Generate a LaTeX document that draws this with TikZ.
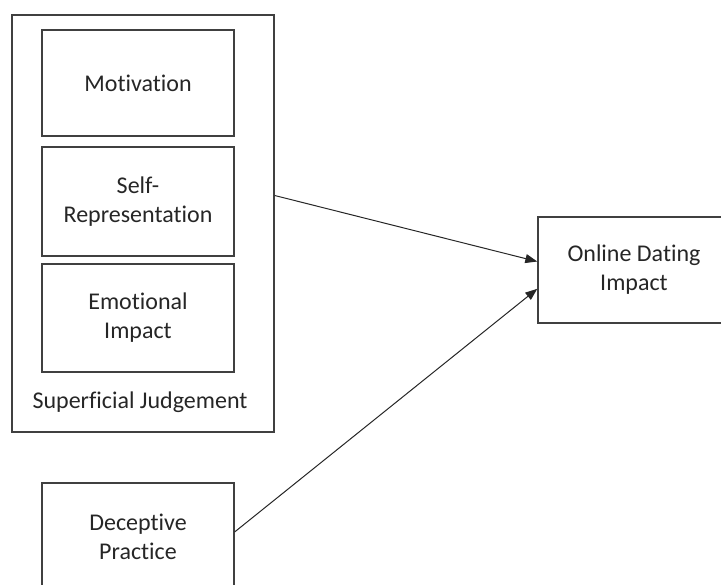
\documentclass[tikz,border=0pt]{standalone}
\usepackage{fontspec}
\setmainfont{Carlito}[Ligatures=NoCommon]
\usetikzlibrary{arrows.meta}

\tikzset{
  factor/.style={draw=black!75, line width=1.4pt, minimum width=192pt,
    minimum height=108pt, align=center, text=black!85, inner sep=0pt},
  link/.style={draw=black!85, line width=1pt,
    -{Triangle[length=12pt,width=9pt]}}
}

\begin{document}
\begin{tikzpicture}[x=1pt,y=-1pt,font=\fontsize{24}{29}\selectfont]
    \useasboundingbox (0,0) rectangle (721,585);
    % group of superficial factors
    \node[factor, minimum width=262pt, minimum height=417pt] (judgement) at (143,223.5) {};
    \node[text=black!85] (judgelabel) at (140,402) {Superficial Judgement};
    \node[factor, minimum height=106pt] (motivation) at (138,83) {Motivation};
    \node[factor, minimum height=109pt] (selfrep) at (138,201.5) {Self-\\Representation};
    \node[factor] (emotional) at (138,318) {Emotional\\Impact};
    % separate factor and outcome
    \node[factor] (deceptive) at (138,537) {Deceptive\\Practice};
    \node[factor, minimum height=106pt] (impact) at (634,270) {Online Dating\\Impact};
    % arrows
    \draw[link] (judgement.12.7) -- (impact.175.2);
    \draw[link] (deceptive.3) -- (impact.191.8);
\end{tikzpicture}
\end{document}
